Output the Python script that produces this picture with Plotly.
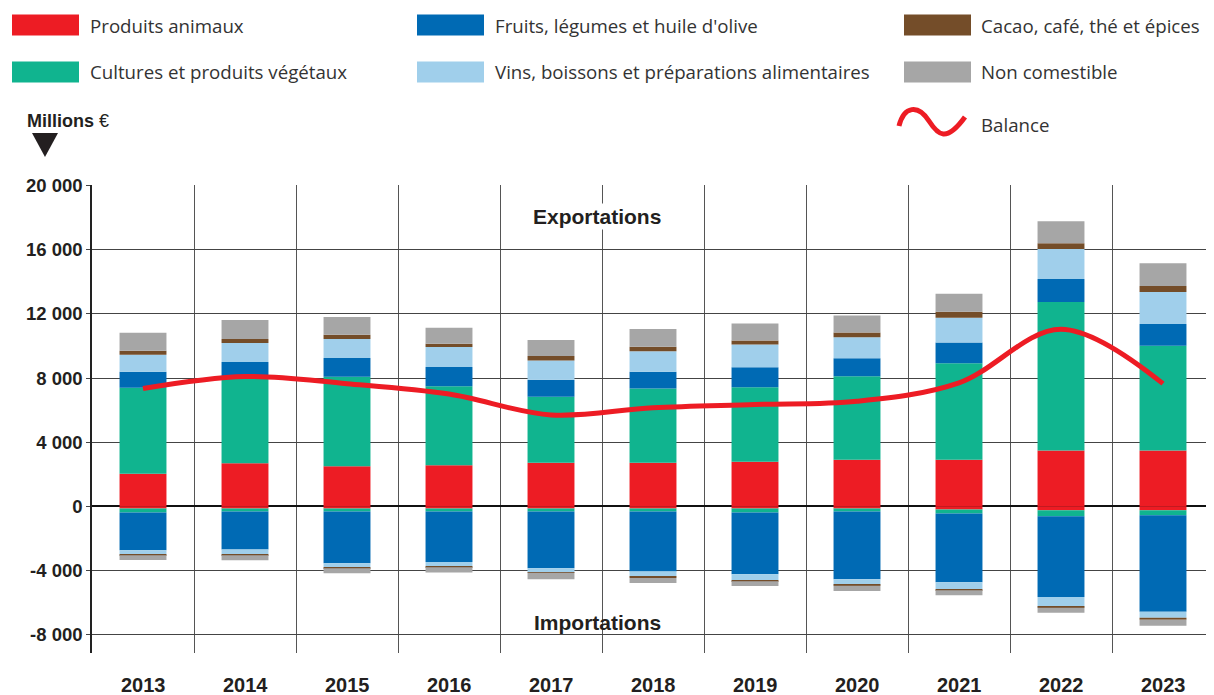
import plotly.graph_objects as go

# ---------------- data (millions €) ----------------
years = ["2013", "2014", "2015", "2016", "2017", "2018", "2019", "2020", "2021", "2022", "2023"]

exp_animaux   = [2035, 2680, 2490, 2555, 2720, 2720, 2770, 2900, 2900, 3480, 3480]
exp_cultures  = [5360, 5320, 5590, 4940, 4110, 4630, 4660, 5220, 6020, 9270, 6530]
exp_fruits    = [1000, 1010, 1180, 1200, 1060, 1040, 1240, 1120, 1300, 1430, 1370]
exp_vins      = [1060, 1180, 1180, 1250, 1200, 1290, 1430, 1300, 1550, 1870, 1990]
exp_cacao     = [250, 250, 270, 190, 290, 270, 250, 310, 370, 370, 370]
exp_noncom    = [1120, 1180, 1100, 1000, 1000, 1120, 1060, 1060, 1120, 1370, 1430]

imp_animaux   = [-145, -145, -145, -145, -145, -145, -145, -145, -210, -250, -250]
imp_cultures  = [-250, -190, -190, -190, -190, -190, -250, -190, -250, -370, -310]
imp_fruits    = [-2347, -2370, -3220, -3140, -3530, -3740, -3850, -4220, -4290, -5040, -6030]
imp_vins      = [-270, -290, -250, -270, -250, -290, -370, -350, -435, -620, -370]
imp_cacao     = [-40, -60, -60, -60, -40, -120, -60, -60, -60, -60, -125]
imp_noncom    = [-310, -310, -310, -330, -400, -310, -310, -330, -310, -310, -370]

balance       = [7350, 8100, 7650, 7000, 5700, 6150, 6350, 6550, 7700, 11050, 7650]

series_names = ["Produits animaux", "Cultures et produits végétaux", "Fruits, légumes et huile d'olive",
                "Vins, boissons et préparations alimentaires", "Cacao, café, thé et épices", "Non comestible"]
series_colors = ["#ED1C24", "#10B48F", "#006AB4", "#A0CFEB", "#744D29", "#A6A6A6"]
balance_name = "Balance"
balance_color = "#ED1C24"

y_tickvals = [-8000, -4000, 0, 4000, 8000, 12000, 16000, 20000]
y_ticktext = ["-8 000", "-4 000", "0", "4 000", "8 000", "12 000", "16 000", "20 000"]

exports = [exp_animaux, exp_cultures, exp_fruits, exp_vins, exp_cacao, exp_noncom]
imports = [imp_animaux, imp_cultures, imp_fruits, imp_vins, imp_cacao, imp_noncom]

# ---------------- layout geometry ----------------
# page body has an 8px margin, so the figure is placed at (8, 8) in the window
OFF = 8
W, H = 1214 - OFF, 695 - OFF
ML, MR, MT, MB = 92 - OFF, 0, 185 - OFF, 695 - 653
PW, PH = W - ML - MR, H - MT - MB

def xp(px):
    """window pixel x -> paper x"""
    return (px - OFF - ML) / PW

def yp(py):
    """window pixel y -> paper y"""
    return (H - MB - (py - OFF)) / PH

TXT = "#231F20"

fig = go.Figure()
for name, color, e, i in zip(series_names, series_colors, exports, imports):
    fig.add_trace(go.Bar(x=years, y=e, name=name, marker=dict(color=color, line=dict(width=0)),
                         showlegend=False))
    fig.add_trace(go.Bar(x=years, y=i, name=name, marker=dict(color=color, line=dict(width=0)),
                         showlegend=False))

fig.add_trace(go.Scatter(x=years, y=balance, name=balance_name, mode="lines",
                         line=dict(color=balance_color, width=5, shape="spline", smoothing=1.0),
                         showlegend=False))

shapes = []
annotations = []

# legend (manual)
legend_cols = [(12, 88), (417, 493), (904, 979)]
legend_rows = [25, 72]
order = [[0, 2, 4], [1, 3, 5]]
for r, row_y in enumerate(legend_rows):
    for c, (sx, tx) in enumerate(legend_cols):
        k = order[r][c]
        shapes.append(dict(type="rect", xref="paper", yref="paper",
                           x0=xp(sx), x1=xp(sx + 67), y0=yp(row_y - 10.5), y1=yp(row_y + 10.5),
                           fillcolor=series_colors[k], line=dict(width=0)))
        annotations.append(dict(xref="paper", yref="paper", x=xp(tx), y=yp(row_y),
                                xanchor="left", yanchor="middle", showarrow=False,
                                text=series_names[k],
                                font=dict(family="Open Sans", size=18.7, color="#333333")))

# balance wave legend
def P(px, py):
    return f"{xp(px):.5f},{yp(py):.5f}"

wave = (f"M {P(899,126)} C {P(904,106)} {P(918,104)} {P(929,121)} "
        f"C {P(938,135)} {P(946,143)} {P(965,117)}")
shapes.append(dict(type="path", xref="paper", yref="paper", path=wave,
                   line=dict(color=balance_color, width=5)))
annotations.append(dict(xref="paper", yref="paper", x=xp(979), y=yp(124),
                        xanchor="left", yanchor="middle", showarrow=False, text=balance_name,
                        font=dict(family="Open Sans", size=18.7, color="#333333")))

# unit label & triangle
annotations.append(dict(xref="paper", yref="paper", x=xp(25), y=yp(121),
                        xanchor="left", yanchor="middle", showarrow=False,
                        text="<b>Millions</b> €",
                        font=dict(family="Liberation Sans", size=18, color=TXT)))
tri = f"M {P(32,133)} L {P(58,133)} L {P(45,157)} Z"
shapes.append(dict(type="path", xref="paper", yref="paper", path=tri,
                   fillcolor=TXT, line=dict(width=0)))

# Exportations / Importations
annotations.append(dict(xref="paper", yref="paper", x=xp(597), y=yp(216),
                        xanchor="center", yanchor="middle", showarrow=False,
                        text="<b>Exportations</b>",
                        font=dict(family="Liberation Sans", size=21, color=TXT),
                        bgcolor="white"))
annotations.append(dict(xref="paper", yref="paper", x=xp(597), y=yp(622),
                        xanchor="center", yanchor="middle", showarrow=False,
                        text="<b>Importations</b>",
                        font=dict(family="Liberation Sans", size=21, color=TXT)))

# year labels (category centres, in window pixels)
cat_w = 1122 / len(years)
for k, yr in enumerate(years):
    cx = 92 + cat_w * (k + 0.5)
    annotations.append(dict(xref="paper", yref="paper", x=xp(cx), y=yp(685),
                            xanchor="center", yanchor="middle", showarrow=False,
                            text=f"<b>{yr}</b>",
                            font=dict(family="Liberation Sans", size=20, color=TXT)))

fig.update_layout(
    width=W, height=H,
    margin=dict(l=ML, r=MR, t=MT, b=MB, pad=0),
    barmode="relative", bargap=0.54,
    plot_bgcolor="white", paper_bgcolor="white",
    shapes=shapes, annotations=annotations,
    xaxis=dict(type="category", tickson="boundaries", showgrid=True,
               gridcolor="#555555", gridwidth=1.3, showticklabels=False, ticks="",
               zeroline=False, showline=False, range=[-0.5, 10.5]),
    yaxis=dict(range=[-9160, 20050], tickmode="array", tickvals=y_tickvals, ticktext=y_ticktext,
               tickfont=dict(family="Liberation Sans", size=18.5, color=TXT, weight="bold"),
               showgrid=True, gridcolor="#444444", gridwidth=1.3,
               ticks="outside", ticklen=4, tickcolor="#444444", tickwidth=1.3,
               zeroline=True, zerolinecolor="#111111", zerolinewidth=1.5,
               showline=True, linecolor="#222222", linewidth=1.5),
)

fig.write_html("out.html")
